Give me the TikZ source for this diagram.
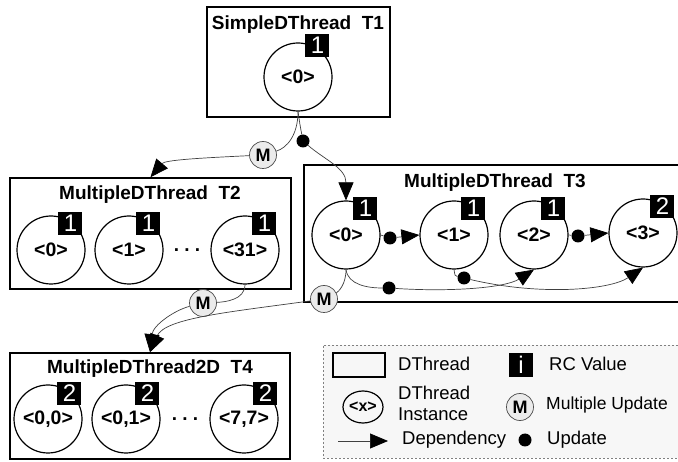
\documentclass[tikz,border=0pt]{standalone}
\usepackage{fontspec}
\setmainfont{Liberation Sans}
\usetikzlibrary{arrows.meta, shapes.geometric}

\begin{document}
\begin{tikzpicture}[x=1pt, y=-1pt,
    thread/.style={draw, line width=1.6pt, inner sep=0pt},
    title/.style={font=\bfseries\fontsize{19}{21}\selectfont},
    inst/.style={circle, draw, line width=1.2pt, minimum size=68pt, inner sep=0pt, font=\bfseries\fontsize{19.5}{20}\selectfont},
    rc/.style={fill=black, text=white, minimum width=24pt, minimum height=23pt, inner sep=0pt, font=\fontsize{24}{24}\selectfont},
    multi/.style={circle, draw=black!70, fill=black!8, line width=0.7pt, minimum size=27pt, inner sep=0pt, font=\bfseries\fontsize{18}{18}\selectfont},
    upd/.style={circle, fill=black, minimum size=13pt, inner sep=0pt},
    link/.style={black!75, line width=0.7pt},
    dep/.style={link, -{Triangle[length=18pt, width=15pt, black]}},
    legtext/.style={anchor=west, font=\fontsize{18.5}{21}\selectfont, inner sep=0pt}]
    \useasboundingbox (0,0) rectangle (678,462);

    % Legend box
    \node[draw=gray, dash pattern=on 2pt off 2pt, fill=gray!6, line width=0.9pt, minimum width=367pt, minimum height=113pt] (lg) at (506.5,401.5) {};

    % Thread boxes
    \node[thread, minimum width=183pt, minimum height=110pt] (t1) at (298.5,62) {};
    \node[thread, minimum width=281pt, minimum height=111pt] (t2) at (150.5,233.5) {};
    \node[thread, minimum width=386pt, minimum height=137pt] (t3) at (497,233.5) {};
    \node[thread, minimum width=280pt, minimum height=106pt] (t4) at (150,406) {};

    \node[title] (t1t) at (298,25) {SimpleDThread~~T1};
    \node[title] (t2t) at (150,195) {MultipleDThread~~T2};
    \node[title] (t3t) at (495,183) {MultipleDThread~~T3};
    \node[title] (t4t) at (150,369) {MultipleDThread2D~~T4};

    % T1
    \node[inst] (s0) at (298,77) {<0>};
    \node[rc] (rs0) at ([xshift=-5pt, yshift=7pt]s0.north east) {1};

    % T2
    \node[inst] (a0) at (51,250) {<0>};
    \node[inst] (a1) at (129,250) {<1>};
    \node[inst] (a2) at (245,250) {<31>};
    \node[rc] (ra0) at ([xshift=-5pt, yshift=2pt]a0.north east) {1};
    \node[rc] (ra1) at ([xshift=-5pt, yshift=2pt]a1.north east) {1};
    \node[rc] (ra2) at ([xshift=-5pt, yshift=2pt]a2.north east) {1};
    \node[title] (ad) at (187,250) {.\ .\ .};

    % T3
    \node[inst] (b0) at (346,235) {<0>};
    \node[inst] (b1) at (454,235) {<1>};
    \node[inst] (b2) at (534,235) {<2>};
    \node[inst] (b3) at (643,233) {<3>};
    \node[rc] (rb0) at ([xshift=-5pt, yshift=2pt]b0.north east) {1};
    \node[rc] (rb1) at ([xshift=-5pt, yshift=2pt]b1.north east) {1};
    \node[rc] (rb2) at ([xshift=-5pt, yshift=2pt]b2.north east) {1};
    \node[rc] (rb3) at ([xshift=-5pt, yshift=2pt]b3.north east) {2};

    % T4
    \node[inst] (c0) at (48,419) {<0,0>};
    \node[inst] (c1) at (126,419) {<0,1>};
    \node[inst] (c2) at (244,419) {<7,7>};
    \node[rc] (rc0) at ([xshift=-3pt, yshift=1pt]c0.north east) {2};
    \node[rc] (rc1) at ([xshift=-3pt, yshift=1pt]c1.north east) {2};
    \node[rc] (rc2) at ([xshift=-3pt, yshift=1pt]c2.north east) {2};
    \node[title] (cd) at (185,419) {.\ .\ .};

    % Updates and multiple updates
    \node[multi] (m1) at (263,155) {M};
    \node[multi] (m2) at (324,299) {M};
    \node[multi] (m3) at (203,303) {M};
    \node[upd] (u1) at (303,141) {};
    \node[upd] (u2) at (390,238) {};
    \node[upd] (u3) at (578,236) {};
    \node[upd] (u4) at (389,288) {};
    \node[upd] (u5) at (464,278) {};

    % T1 -> T2, T3
    \draw[link] (s0.south) .. controls (298,135) and (287,148) .. (m1);
    \draw[dep] (m1) .. controls (200,158) and (165,160) .. (t2.north);
    \draw[link] (s0.south) .. controls (300,125) .. (u1);
    \draw[dep] (u1) .. controls (325,160) and (346,168) .. (b0.north);

    % inside T3
    \draw[link] (b0.east) -- (u2);
    \draw[dep] (u2) -- (b1.west);
    \draw[link] (b2.east) -- (u3);
    \draw[dep] (u3) -- (b3.west);
    \draw[link] (b0.south) .. controls (348,285) and (368,288) .. (u4);
    \draw[dep] (u4) .. controls (450,292) and (505,288) .. (b2.south);
    \draw[link] (b1.south) .. controls (455,276) .. (u5);
    \draw[dep] (u5) .. controls (540,296) and (610,290) .. (b3.south);

    % T2, T3 -> T4
    \draw[link] (b0.south) .. controls (346,285) and (338,292) .. (m2);
    \draw[dep] (m2) .. controls (230,312) and (165,318) .. (t4.north);
    \draw[link] (a2.south) .. controls (245,300) and (225,302) .. (m3);
    \draw[dep] (m3) .. controls (175,310) and (153,325) .. (t4.north);

    % Legend
    \node[thread, minimum width=52pt, minimum height=24pt] (lg1) at (359,365) {};
    \node[legtext] (lg1t) at (398,364) {DThread};
    \node[rc, minimum width=24pt, minimum height=24pt] (lg2) at (521,365) {i};
    \node[legtext] (lg2t) at (549,364) {RC Value};
    \node[ellipse, draw, line width=1.2pt, minimum width=40pt, minimum height=32pt, inner sep=0pt, font=\bfseries\fontsize{16}{16}\selectfont] (lg3) at (363,407) {<x>};
    \node[legtext, align=left] (lg3t) at (398,403) {DThread\\Instance};
    \node[multi] (lg4) at (520,407) {M};
    \node[legtext, font=\fontsize{17.5}{21}\selectfont] (lg4t) at (546,405) {Multiple Update};
    \coordinate (lg5a) at (338,441);
    \coordinate (lg5b) at (388,441);
    \draw[dep] (lg5a) -- (lg5b);
    \node[legtext] (lg5t) at (402,440) {Dependency};
    \node[upd] (lg6) at (525,440) {};
    \node[legtext] (lg6t) at (547,440) {Update};
\end{tikzpicture}
\end{document}
